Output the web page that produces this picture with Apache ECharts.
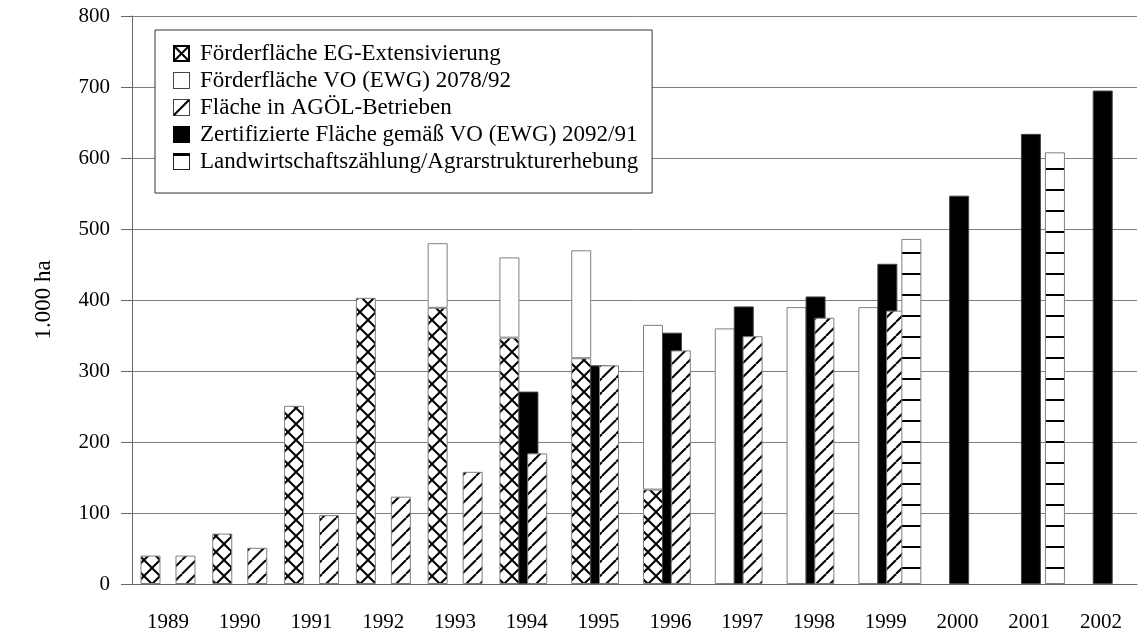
<!DOCTYPE html>
<html><head><meta charset="utf-8">
<script src="https://cdn.jsdelivr.net/npm/echarts@6/dist/echarts.min.js"></script>
<style>html,body{margin:0;padding:0;background:#fff;overflow:hidden}#c{width:1200px;height:634px}</style>
</head><body><div id="c"></div>
<script>
// ---- data ----
const years = ['1989','1990','1991','1992','1993','1994','1995','1996','1997','1998','1999','2000','2001','2002'];
const egExtensivierung = [40, 71, 251, 403, 389, 347, 318, 133, null, null, null, null, null, null];
const vo2078 = [null, null, null, null, 91, 113, 152, 232, 360, 390, 390, null, null, null];
const zertifiziert = [null, null, null, null, null, 271, 308, 354, 391, 405, 451, 547, 634, 695];
const agoel = [40, 51, 97, 123, 158, 184, 308, 329, 349, 375, 385, null, null, null];
const agrarstruktur = [null, null, null, null, null, null, null, null, null, null, 486, null, 608, null];
const yMin = 0, yMax = 800, yStep = 100;
const names = ['Förderfläche EG-Extensivierung','Förderfläche VO (EWG) 2078/92','Fläche in AGÖL-Betrieben','Zertifizierte Fläche gemäß VO (EWG) 2092/91','Landwirtschaftszählung/Agrarstrukturerhebung'];

// ---- styling helpers ----
const FONT = "'Liberation Serif','Times New Roman',serif";
function tile(w, h, draw) {
  const c = document.createElement('canvas'); c.width = w; c.height = h;
  const g = c.getContext('2d'); g.fillStyle = '#fff'; g.fillRect(0, 0, w, h);
  g.strokeStyle = '#000'; g.fillStyle = '#000'; g.lineWidth = 2; draw(g, w, h); return c;
}
const crossTile = tile(16, 16, (g, s) => { for (const k of [-s, 0, s]) { g.beginPath(); g.moveTo(k, 0); g.lineTo(k + s, s); g.moveTo(k, s); g.lineTo(k + s, 0); g.stroke(); } });
const hatchTile = tile(14, 14, (g, s) => { for (const k of [-s, 0, s]) { g.beginPath(); g.moveTo(k, s); g.lineTo(k + s, 0); g.stroke(); } });
const lineTile = tile(8, 21, (g, w) => { g.fillRect(0, 0, w, 2); });
function icon(draw) {
  const c = document.createElement('canvas'); c.width = 17; c.height = 17;
  const g = c.getContext('2d'); g.fillStyle = '#fff'; g.fillRect(0, 0, 17, 17); draw(g);
  return 'image://' + c.toDataURL();
}
const icons = [
  icon(g => { g.strokeStyle = '#000'; g.lineWidth = 2; g.strokeRect(1, 1, 15, 15); g.beginPath(); g.moveTo(1,1); g.lineTo(16,16); g.moveTo(1,16); g.lineTo(16,1); g.stroke(); }),
  icon(g => { g.strokeStyle = '#444'; g.lineWidth = 1; g.strokeRect(0.5, 0.5, 16, 16); }),
  icon(g => { g.strokeStyle = '#444'; g.lineWidth = 1; g.strokeRect(0.5, 0.5, 16, 16); g.strokeStyle = '#000'; g.lineWidth = 2.2; g.beginPath(); g.moveTo(1,16); g.lineTo(16,1); g.stroke(); }),
  icon(g => { g.fillStyle = '#000'; g.fillRect(0, 0, 17, 17); }),
  icon(g => { g.strokeStyle = '#222'; g.lineWidth = 1; g.strokeRect(0.5, 0.5, 16, 16); g.fillStyle = '#000'; g.fillRect(0, 0, 17, 3); })
];

// ---- layout ----
const L = 132, W = 1005, TOP = 16, H = 568, BW = 20;
// horizontal offsets of each bar group inside a year (px)
const shifts = [0, -17.4, 1.6, 10.4, 17.6, 25.6];
const grids = shifts.map(s => ({ left: L + s, top: TOP, width: W, height: H }));
const xAxes = shifts.map((s, i) => i === 0 ? {
  type: 'category', gridIndex: 0, data: years,
  axisLine: { lineStyle: { color: '#666', width: 1 } },
  axisTick: { length: 18, lineStyle: { color: '#666' } },
  axisLabel: { margin: 28, fontSize: 21, color: '#000', fontFamily: FONT }
} : { type: 'category', gridIndex: i, data: years, show: false });
const yAxes = shifts.map((s, i) => i === 0 ? {
  type: 'value', gridIndex: 0, min: yMin, max: yMax, interval: yStep,
  name: '1.000 ha', nameLocation: 'middle', nameGap: 77, nameRotate: 90,
  nameTextStyle: { fontSize: 23, color: '#000', fontFamily: FONT },
  axisLine: { show: true, lineStyle: { color: '#666' } },
  axisTick: { show: true, length: 11, lineStyle: { color: '#666' } },
  axisLabel: { margin: 22, fontSize: 21, color: '#000', fontFamily: FONT },
  splitLine: { lineStyle: { color: '#808080', width: 1 } }
} : { type: 'value', gridIndex: i, min: yMin, max: yMax, interval: yStep, show: false, splitLine: { show: false } });

const agoelWithCert = agoel.map((v, i) => zertifiziert[i] != null ? v : null);
const agoelNoCert = agoel.map((v, i) => zertifiziert[i] == null ? v : null);
const border = { borderColor: '#808080', borderWidth: 1 };
function bar(name, data, axis, color, extra) {
  return Object.assign({ type: 'bar', name, data, xAxisIndex: axis, yAxisIndex: axis, barWidth: BW,
    itemStyle: Object.assign({ color }, border), emphasis: { disabled: true } }, extra || {});
}
const series = [
  bar(names[0], egExtensivierung, 1, { image: crossTile, repeat: 'repeat' }, { stack: 'foerder' }),
  bar(names[1], vo2078, 1, '#fff', { stack: 'foerder' }),
  bar(names[3], zertifiziert, 2, '#000'),
  bar(names[2], agoelWithCert, 3, { image: hatchTile, repeat: 'repeat' }),
  bar(names[2], agoelNoCert, 4, { image: hatchTile, repeat: 'repeat' }),
  bar(names[4], agrarstruktur, 5, { image: lineTile, repeat: 'repeat' })
];
series[2].itemStyle.borderColor = '#444';

const chart = echarts.init(document.getElementById('c'), null, { renderer: 'canvas' });
chart.setOption({
  animation: false,
  backgroundColor: '#fff',
  grid: grids, xAxis: xAxes, yAxis: yAxes,
  legend: {
    orient: 'vertical', left: 155, top: 30, padding: [12, 14, 20, 18], itemGap: 4,
    itemWidth: 17, itemHeight: 17, borderColor: '#333', borderWidth: 1, backgroundColor: '#fff',
    selectedMode: false,
    textStyle: { fontSize: 23, color: '#000', fontFamily: FONT, padding: [0, 0, 0, 5] },
    data: names.map((n, i) => ({ name: n, icon: icons[i] }))
  },
  series
});
</script></body></html>
